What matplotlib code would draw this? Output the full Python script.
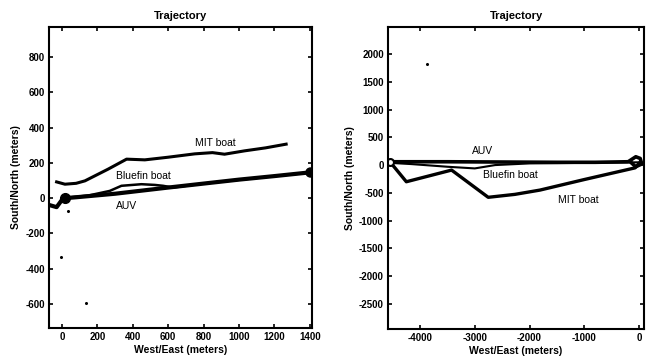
import matplotlib
matplotlib.use("Agg")
import matplotlib.pyplot as plt

plt.rcParams['font.family'] = ['Liberation Sans', 'DejaVu Sans']

# ---- Left panel data (meters) ----
mit_l_x = [-30, 17, 80, 130, 260, 365, 468, 600, 750, 850, 918, 1031, 1150, 1266]
mit_l_y = [92, 79, 84, 98, 164, 221, 217, 232, 251, 258, 249, 268, 285, 306]

blue_l_x = [0, 150, 270, 336, 449, 524, 571, 627, 800, 1000, 1200, 1400]
blue_l_y = [0, 15, 41, 70, 79, 75, 70, 60, 83, 104, 125, 145]

auv_l_x = [-68, -30, 0, 20, 80, 300, 600, 1000, 1200, 1400]
auv_l_y = [-40, -51, -10, 0, 5, 25, 60, 105, 125, 146]

out_l_x = [-6, 135, 34]
out_l_y = [-334, -595, -74]

# ---- Right panel data (meters) ----
mit_r_x = [-4550, -4250, -3424, -2755, -2267, -1810, -1000, -73, 0]
mit_r_y = [60, -300, -90, -580, -527, -450, -260, -50, 30]

blue_r_x = [-4550, -4160, -3500, -3000, -2630, -2000, -1000, 0]
blue_r_y = [40, 18, -30, -60, 0, 30, 40, 50]

auv_r_x = [-4550, -3500, -2500, -1500, -800, -200, -60, 20, 50, -60, -140]
auv_r_y = [60, 60, 55, 50, 50, 60, 150, 120, 20, -30, 40]

out_r_x = [-3876]
out_r_y = [1816]

xticks_l = [0, 200, 400, 600, 800, 1000, 1200, 1400]
yticks_l = [-600, -400, -200, 0, 200, 400, 600, 800]
xticks_r = [-4000, -3000, -2000, -1000, 0]
yticks_r = [-2500, -2000, -1500, -1000, -500, 0, 500, 1000, 1500, 2000]

fig = plt.figure(figsize=(6.46, 3.62), dpi=100)
axl = fig.add_axes([49/646, 1-328/362, (312-49)/646, (328-27)/362])
axr = fig.add_axes([388/646, 1-329/362, (644-388)/646, (329-27)/362])

tick_font = dict(fontsize=7, fontweight='bold')

def style(ax, xt, yt, xlim, ylim):
    ax.set_xlim(*xlim)
    ax.set_ylim(*ylim)
    ax.set_xticks(xt)
    ax.set_yticks(yt)
    ax.set_xticklabels([str(v) for v in xt], **tick_font)
    ax.set_yticklabels([str(v) for v in yt], **tick_font)
    ax.tick_params(direction='in', length=3, width=1.2, top=True, right=True, pad=3)
    for s in ax.spines.values():
        s.set_linewidth(1.5)
    ax.set_title('Trajectory', fontsize=8, fontweight='bold', pad=6)
    ax.set_xlabel('West/East (meters)', fontsize=7.5, fontweight='bold', labelpad=2)
    ax.set_ylabel('South/North (meters)', fontsize=7.5, fontweight='bold', labelpad=3)

# Left
axl.plot(mit_l_x, mit_l_y, color='black', lw=2.2)
axl.plot(blue_l_x, blue_l_y, color='black', lw=1.8)
axl.plot(auv_l_x, auv_l_y, color='black', lw=3.0)
axl.plot([auv_l_x[3]], [auv_l_y[3]], 'o', color='black', ms=7)
axl.plot([auv_l_x[-1]], [auv_l_y[-1]], 'o', color='black', ms=6.5)
axl.plot(out_l_x, out_l_y, 'o', color='black', ms=1.2)
axl.text(750, 315, 'MIT boat', fontsize=7.5, va='center', ha='left')
axl.text(308, 126, 'Bluefin boat', fontsize=7.5, va='center', ha='left')
axl.text(308, -45, 'AUV', fontsize=7.5, va='center', ha='left')
style(axl, xticks_l, yticks_l, (-73, 1412), (-736, 970))

# Right
axr.plot(mit_r_x, mit_r_y, color='black', lw=2.4)
axr.plot(blue_r_x, blue_r_y, color='black', lw=1.5)
axr.plot(auv_r_x, auv_r_y, color='black', lw=2.6)
axr.plot([auv_r_x[0]], [auv_r_y[0]], 'o', mfc='white', mec='black', mew=1.5, ms=5)
axr.plot(out_r_x, out_r_y, 'o', color='black', ms=1.2)
axr.text(-3060, 250, 'AUV', fontsize=7.5, va='center', ha='left')
axr.text(-2857, -180, 'Bluefin boat', fontsize=7.5, va='center', ha='left')
axr.text(-1480, -630, 'MIT boat', fontsize=7.5, va='center', ha='left')
style(axr, xticks_r, yticks_r, (-4585, 90), (-2950, 2485))

fig.savefig('out.png', dpi=100)
